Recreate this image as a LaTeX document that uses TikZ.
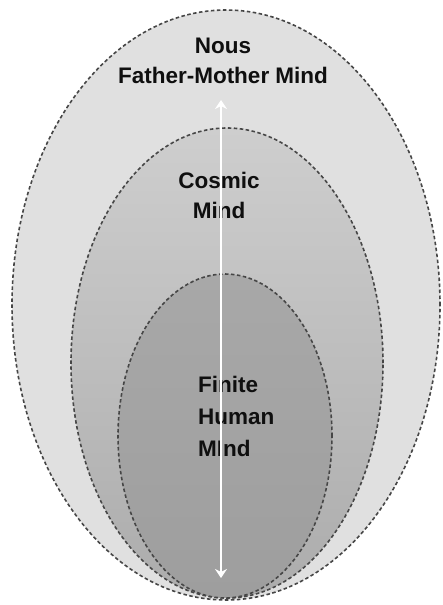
\documentclass[tikz,border=0pt]{standalone}
\usepackage{fontspec}
\setmainfont{Liberation Sans}
\usetikzlibrary{arrows.meta}
\definecolor{outerfill}{RGB}{224,224,224}
\definecolor{midtop}{RGB}{206,206,206}
\definecolor{midbot}{RGB}{172,172,172}
\definecolor{innertop}{RGB}{168,168,168}
\definecolor{innerbot}{RGB}{158,158,158}
\definecolor{dashline}{RGB}{70,70,70}
\definecolor{labeltext}{RGB}{15,15,15}
\tikzset{
  ring/.style={draw=dashline, line width=1.6pt, dash pattern=on 3.5pt off 2.5pt},
  lbl/.style={inner sep=0pt, text=labeltext, font=\bfseries\fontsize{22.5}{30}\selectfont},
  axisarrow/.style={draw=white, line width=2.6pt, {Stealth[length=9pt,width=12pt]}-{Stealth[length=9pt,width=12pt]}}
}
\begin{document}
\begin{tikzpicture}[x=1pt,y=-1pt]
\useasboundingbox (0,0) rectangle (443,605);
\fill[white] (0,0) rectangle (443,605);
% outer
\path[ring, fill=outerfill] (226,305) ellipse [x radius=214pt, y radius=295pt];
% middle
\path[ring, top color=midtop, bottom color=midbot] (227,363) ellipse [x radius=156pt, y radius=235pt];
% inner
\path[ring, top color=innertop, bottom color=innerbot] (225,436) ellipse [x radius=107pt, y radius=162pt];
% labels
\node[lbl, align=center, anchor=north] (nous) at (223,38) {Nous\\Father-Mother Mind};
\node[lbl, align=center, anchor=north] (cosmic) at (219,172) {Cosmic\\Mind};
\node[lbl, align=left, anchor=north west, font=\bfseries\fontsize{22.5}{32}\selectfont] (finite) at (198,376) {Finite\\Human\\MInd};
% arrow
\coordinate (atop) at (221,100);
\coordinate (abot) at (221,578);
\draw[axisarrow] (atop) -- (abot);
\end{tikzpicture}
\end{document}
